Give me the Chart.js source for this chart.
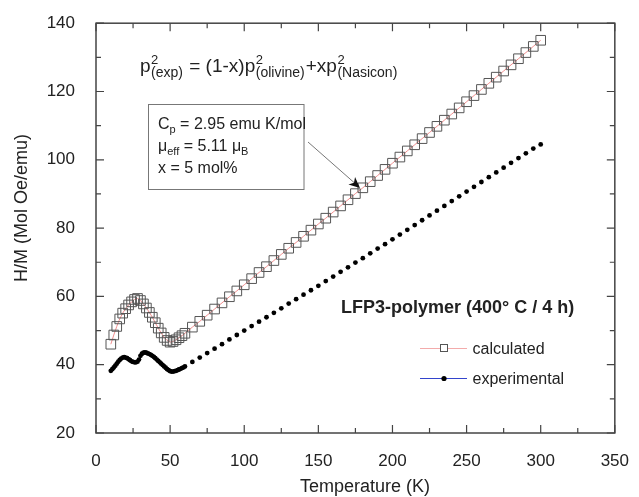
<!DOCTYPE html>
<html>
<head>
<meta charset="utf-8">
<script src="https://cdn.jsdelivr.net/npm/chart.js@4/dist/chart.umd.min.js"></script>
<style>
  body { margin: 0; background: #fff; }
  canvas { display: block; }
</style>
</head>
<body>
<canvas id="c" width="639" height="497"></canvas>
<script>
  // calculated H/M (open squares)
  var calcT = [10, 12, 14, 16, 18, 20, 22, 24, 26, 28, 30, 32, 34, 36, 38, 40, 42, 44, 46, 48, 50, 52, 54, 56, 58,
    60, 65, 70, 75, 80, 85, 90, 95, 100, 105, 110, 115, 120, 125, 130, 135, 140, 145, 150, 155, 160, 165, 170, 175,
    180, 185, 190, 195, 200, 205, 210, 215, 220, 225, 230, 235, 240, 245, 250, 255, 260, 265, 270, 275, 280, 285,
    290, 295, 300];
  var calcHM = [46.0, 48.7, 51.2, 53.4, 55.1, 56.4, 57.5, 58.4, 59.1, 59.4, 58.8, 57.8, 56.6, 55.3, 53.9, 52.3, 50.7,
    49.3, 48.0, 47.1, 46.6, 46.8, 47.3, 47.9, 48.5,
    49.2, 51.0, 52.7, 54.5, 56.3, 58.1, 59.9, 61.6, 63.4, 65.2, 67.0, 68.7, 70.5, 72.3, 74.1, 75.8, 77.6, 79.4, 81.2,
    82.9, 84.7, 86.5, 88.3, 90.1, 91.8, 93.6, 95.4, 97.2, 99.0, 100.8, 102.6, 104.4, 106.2, 108.0, 109.8, 111.6,
    113.4, 115.2, 117.0, 118.8, 120.6, 122.4, 124.2, 126.0, 127.8, 129.6, 131.4, 133.2, 135.0];

  // experimental H/M (filled dots)
  var expT = [10, 11, 12, 13, 14, 15, 16, 17, 18, 19, 20, 21, 22, 23, 24, 25, 26, 27, 28, 29, 30, 31, 32, 33, 34, 35,
    36, 37, 38, 39, 40, 41, 42, 43, 44, 45, 46, 47, 48, 49, 50, 51, 52, 53, 54, 55, 56, 57, 58, 59, 60,
    65, 70, 75, 80, 85, 90, 95, 100, 105, 110, 115, 120, 125, 130, 135, 140, 145, 150, 155, 160, 165, 170, 175,
    180, 185, 190, 195, 200, 205, 210, 215, 220, 225, 230, 235, 240, 245, 250, 255, 260, 265, 270, 275, 280, 285,
    290, 295, 300];
  var expHM = [38.2, 38.7, 39.2, 39.7, 40.3, 40.9, 41.4, 41.8, 42.1, 42.2, 42.1, 41.9, 41.6, 41.3, 41.0, 40.8, 40.7,
    40.7, 40.9, 41.5, 42.6, 43.2, 43.5, 43.6, 43.5, 43.3, 43.1, 42.9, 42.6, 42.3, 41.9, 41.5, 41.1, 40.7, 40.3, 39.9,
    39.5, 39.1, 38.7, 38.4, 38.1, 38.0, 38.0, 38.1, 38.2, 38.4, 38.6, 38.8, 39.0, 39.2, 39.5,
    40.8, 42.1, 43.4, 44.7, 46.0, 47.4, 48.7, 50.0, 51.3, 52.6, 53.9, 55.2, 56.5, 57.9, 59.2, 60.5, 61.8, 63.1,
    64.5, 65.8, 67.2, 68.5, 69.9, 71.2, 72.6, 74.0, 75.3, 76.7, 78.1, 79.5, 80.9, 82.3, 83.7, 85.1, 86.5, 87.9,
    89.3, 90.7, 92.1, 93.5, 94.9, 96.3, 97.7, 99.1, 100.5, 101.9, 103.3, 104.5];

  var xTickValues = [0, 50, 100, 150, 200, 250, 300, 350];
  var yTickValues = [20, 40, 60, 80, 100, 120, 140];

  var seriesNames = ['calculated', 'experimental'];
  var xTitle = 'Temperature (K)';
  var yTitle = 'H/M (Mol Oe/emu)';

  var toPoints = function(xs, ys) {
    return xs.map(function(x, i) { return { x: x, y: ys[i] }; });
  };

  var txt = function(ctx, s, x, y, font) {
    ctx.font = font;
    ctx.fillText(s, x, y);
    return x + ctx.measureText(s).width;
  };

  var F = '"Liberation Sans", Arial, sans-serif';

  // main text followed by a superscript 2 and a subscript, both starting at the same x
  var supSub = function(ctx, main, sub, x) {
    x = txt(ctx, main, x, 72, '19px ' + F) + 0.5;
    var a = txt(ctx, '2', x, 64, '13px ' + F);
    var b = txt(ctx, sub, x, 77, '14px ' + F);
    return Math.max(a, b) + 1;
  };

  // box frame with inward ticks, notes, legend and axis titles
  var decor = {
    id: 'decor',
    afterDatasetsDraw: function(chart) {
      var ctx = chart.ctx, a = chart.chartArea;
      var xs = chart.scales.x, ys = chart.scales.y;
      var v, p, len;
      ctx.save();

      ctx.strokeStyle = '#444';
      ctx.lineWidth = 1.5;
      ctx.strokeRect(a.left, a.top, a.right - a.left, a.bottom - a.top);
      ctx.lineWidth = 1.2;
      ctx.beginPath();
      for (v = xs.min; v <= xs.max; v += 25) {
        p = xs.getPixelForValue(v);
        len = v % 50 ? 5 : 8;
        ctx.moveTo(p, a.bottom); ctx.lineTo(p, a.bottom - len);
        ctx.moveTo(p, a.top); ctx.lineTo(p, a.top + len);
      }
      for (v = ys.min; v <= ys.max; v += 10) {
        p = ys.getPixelForValue(v);
        len = v % 20 ? 5 : 8;
        ctx.moveTo(a.left, p); ctx.lineTo(a.left + len, p);
        ctx.moveTo(a.right, p); ctx.lineTo(a.right - len, p);
      }
      ctx.stroke();

      ctx.fillStyle = '#222';
      ctx.textAlign = 'left';
      ctx.textBaseline = 'alphabetic';

      // formula
      var x = supSub(ctx, 'p', '(exp)', 140);
      x = supSub(ctx, ' = (1-x)p', '(olivine)', x);
      supSub(ctx, '+xp', '(Nasicon)', x);

      // parameter box
      ctx.strokeStyle = '#777';
      ctx.lineWidth = 1;
      ctx.strokeRect(148.5, 104.5, 155.5, 85);
      x = txt(ctx, 'C', 158, 129, '16px ' + F);
      x = txt(ctx, 'p', x, 133, '11px ' + F);
      txt(ctx, ' = 2.95 emu K/mol', x, 129, '16px ' + F);
      x = txt(ctx, '\u03bc', 158, 151, '16px ' + F);
      x = txt(ctx, 'eff', x, 155, '11px ' + F);
      x = txt(ctx, ' = 5.11 \u03bc', x, 151, '16px ' + F);
      txt(ctx, 'B', x, 155, '11px ' + F);
      txt(ctx, 'x = 5 mol%', 158, 173, '16px ' + F);

      // arrow
      ctx.strokeStyle = '#777';
      ctx.beginPath();
      ctx.moveTo(308, 142);
      ctx.lineTo(358, 186);
      ctx.stroke();
      var ang = Math.atan2(186 - 142, 358 - 308);
      ctx.save();
      ctx.translate(360, 188);
      ctx.rotate(ang);
      ctx.fillStyle = '#111';
      ctx.beginPath();
      ctx.moveTo(0, 0);
      ctx.lineTo(-11, -5);
      ctx.lineTo(-8, 0);
      ctx.lineTo(-11, 5);
      ctx.closePath();
      ctx.fill();
      ctx.restore();

      // sample label
      ctx.fillStyle = '#222';
      txt(ctx, 'LFP3-polymer (400\u00b0 C / 4 h)', 341, 313, 'bold 18px ' + F);

      // legend
      var ly = [348.5, 378.5];
      chart.data.datasets.forEach(function(ds, i) {
        ctx.strokeStyle = ds.legendLine;
        ctx.lineWidth = 1;
        ctx.beginPath();
        ctx.moveTo(420, ly[i]);
        ctx.lineTo(467, ly[i]);
        ctx.stroke();
        if (i === 0) {
          ctx.strokeStyle = ds.pointBorderColor;
          ctx.fillStyle = '#fff';
          ctx.fillRect(440.5, ly[i] - 4, 7, 7);
          ctx.strokeRect(440.5, ly[i] - 4, 7, 7);
        } else {
          ctx.fillStyle = ds.pointBackgroundColor;
          ctx.beginPath();
          ctx.arc(444, ly[i], 2.6, 0, Math.PI * 2);
          ctx.fill();
        }
        ctx.fillStyle = '#222';
        txt(ctx, ds.label, 472.5, ly[i] + 5.5, '16px ' + F);
      });

      // axis titles
      ctx.textAlign = 'center';
      ctx.textBaseline = 'middle';
      ctx.font = '18px ' + F;
      ctx.fillText(xTitle, 365, 487);
      ctx.save();
      ctx.translate(22, 208);
      ctx.rotate(-Math.PI / 2);
      ctx.fillText(yTitle, 0, 0);
      ctx.restore();

      ctx.restore();
    }
  };

  new Chart(document.getElementById('c').getContext('2d'), {
    type: 'scatter',
    data: {
      datasets: [
        {
          label: seriesNames[0],
          data: toPoints(calcT, calcHM),
          showLine: true,
          borderColor: 'rgba(240,130,130,0.9)',
          borderWidth: 1,
          legendLine: 'rgba(240,150,150,0.8)',
          pointStyle: 'rect',
          pointRadius: 6.8,
          pointBorderWidth: 1,
          pointBorderColor: '#555',
          pointBackgroundColor: 'rgba(0,0,0,0)'
        },
        {
          label: seriesNames[1],
          data: toPoints(expT, expHM),
          showLine: false,
          borderColor: '#3344cc',
          legendLine: '#3344cc',
          pointStyle: 'circle',
          pointRadius: 2.4,
          pointBorderWidth: 0,
          pointBackgroundColor: '#000'
        }
      ]
    },
    options: {
      responsive: false,
      animation: false,
      layout: { padding: { top: 19, right: 16, left: 0, bottom: 0 } },
      plugins: { legend: { display: false }, tooltip: { enabled: false } },
      scales: {
        x: {
          type: 'linear',
          min: 0,
          max: 350,
          afterBuildTicks: function(s) { s.ticks = xTickValues.map(function(v) { return { value: v }; }); },
          afterFit: function(s) { s.height = 64; },
          grid: { display: false },
          border: { display: false },
          ticks: { padding: 10, color: '#222', font: { family: F, size: 17 } }
        },
        y: {
          type: 'linear',
          min: 20,
          max: 140,
          afterBuildTicks: function(s) { s.ticks = yTickValues.map(function(v) { return { value: v }; }); },
          afterFit: function(s) { s.width = 96; },
          grid: { display: false },
          border: { display: false },
          ticks: { padding: 13, color: '#222', font: { family: F, size: 17 } }
        }
      }
    },
    plugins: [decor]
  });
</script>
</body>
</html>
